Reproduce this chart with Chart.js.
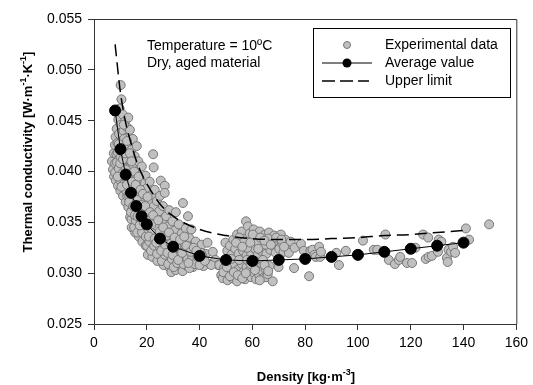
<!DOCTYPE html>
<html>
<head>
<meta charset="utf-8">
<script src="https://cdn.jsdelivr.net/npm/chart.js@4/dist/chart.umd.min.js"></script>
<style>
  html, body { margin: 0; padding: 0; background: #fff; }
  canvas { display: block; }
</style>
</head>
<body>
<canvas id="chart" width="533" height="385"></canvas>
<script>
// Axis ticks
const xTicks = [0, 20, 40, 60, 80, 100, 120, 140, 160];
const yTicks = [0.025, 0.030, 0.035, 0.040, 0.045, 0.050, 0.055];

// Average value (black markers)
const avgDensity = [8, 10, 12, 14, 16, 18, 20, 25, 30, 40, 50, 60, 70, 80, 90, 100, 110, 120, 130, 140];
const avgConductivity = [0.0460, 0.0422, 0.0397, 0.0379, 0.0366, 0.0356, 0.0348, 0.0334, 0.0326, 0.0317,
  0.0313, 0.0312, 0.0313, 0.0314, 0.0316, 0.0318, 0.0321, 0.0324, 0.0327, 0.0330];

// Upper limit (dashed)
const upperDensity = [8, 10, 12, 14, 16, 18, 20, 25, 30, 40, 50, 60, 70, 80, 90, 100, 110, 120, 130, 140];
const upperConductivity = [0.0525, 0.0478, 0.0448, 0.0428, 0.0411, 0.0398, 0.0388, 0.0368, 0.0356, 0.0343,
  0.0337, 0.0334, 0.0333, 0.0333, 0.0334, 0.0335, 0.0337, 0.0338, 0.0340, 0.0342];

const expPoints = [
  [6.8,0.0410],[7.2,0.0402],[7.5,0.0418],[7.6,0.0395],[7.9,0.0426],[8.0,0.0408],[8.2,0.0434],[8.3,0.0391],
  [8.5,0.0417],[8.6,0.0442],[8.8,0.0400],[8.9,0.0428],[9.1,0.0386],[9.2,0.0451],[9.3,0.0412],[9.5,0.0437],
  [9.6,0.0396],[9.7,0.0462],[9.9,0.0422],[10.0,0.0381],[10.1,0.0485],[10.2,0.0446],[10.3,0.0405],[10.4,0.0471],
  [10.5,0.0430],[10.6,0.0390],[10.8,0.0415],[10.9,0.0456],[11.0,0.0376],[11.2,0.0440],[11.3,0.0398],[11.5,0.0424],
  [11.6,0.0383],[11.7,0.0449],[11.9,0.0409],[12.0,0.0370],[12.1,0.0433],[12.3,0.0392],[12.4,0.0418],[12.6,0.0376],
  [12.7,0.0443],[12.9,0.0402],[13.0,0.0453],[13.0,0.0365],[13.2,0.0425],[13.4,0.0386],[13.5,0.0410],[13.6,0.0441],
  [13.7,0.0355],[13.8,0.0372],[14.0,0.0396],[14.1,0.0421],[14.3,0.0345],[14.4,0.0362],[14.5,0.0382],[14.7,0.0432],
  [14.8,0.0406],[15.0,0.0352],[15.1,0.0370],[15.3,0.0390],[15.4,0.0415],[15.6,0.0340],[15.7,0.0360],[15.9,0.0378],
  [16.0,0.0400],[16.2,0.0425],[16.3,0.0348],[16.5,0.0367],[16.7,0.0387],[16.8,0.0410],[17.0,0.0336],[17.1,0.0355],
  [17.3,0.0374],[17.5,0.0395],[17.6,0.0343],[17.8,0.0362],[18.0,0.0383],[18.1,0.0405],[18.3,0.0331],[18.4,0.0350],
  [18.6,0.0370],[18.8,0.0390],[19.0,0.0338],[19.1,0.0357],[19.3,0.0377],[19.5,0.0396],[19.6,0.0327],[19.8,0.0346],
  [20.0,0.0364],[20.2,0.0384],[20.4,0.0318],[20.5,0.0334],[20.7,0.0352],[20.9,0.0371],[21.1,0.0390],[21.3,0.0325],
  [21.5,0.0341],[21.7,0.0359],[21.9,0.0377],[22.1,0.0316],[22.3,0.0332],[22.4,0.0417],[22.6,0.0404],[22.5,0.0348],
  [22.7,0.0366],[23.0,0.0382],[23.2,0.0322],[23.4,0.0339],[23.6,0.0355],[23.8,0.0371],[24.0,0.0312],[24.2,0.0328],
  [24.4,0.0345],[24.7,0.0361],[25.0,0.0376],[25.3,0.0391],[25.2,0.0318],[25.5,0.0334],[25.8,0.0350],[26.1,0.0366],
  [26.4,0.0308],[26.7,0.0324],[26.8,0.0386],[26.8,0.0379],[27.0,0.0340],[27.3,0.0356],[27.6,0.0314],[27.9,0.0330],
  [28.2,0.0346],[28.5,0.0362],[28.8,0.0305],[29.0,0.0320],[29.3,0.0336],[29.3,0.0301],[29.7,0.0351],[30.0,0.0312],
  [30.3,0.0327],[30.6,0.0342],[31.0,0.0360],[31.0,0.0303],[31.4,0.0318],[31.7,0.0333],[32.1,0.0348],[32.5,0.0309],
  [32.8,0.0324],[33.2,0.0339],[33.7,0.0369],[33.6,0.0302],[34.0,0.0315],[34.4,0.0330],[34.8,0.0344],[35.2,0.0307],
  [35.6,0.0356],[35.6,0.0321],[36.0,0.0335],[36.5,0.0312],[36.9,0.0343],[37.0,0.0326],[37.5,0.0306],[38.0,0.0318],
  [38.5,0.0331],[39.0,0.0310],[39.6,0.0323],[40.2,0.0313],[40.8,0.0328],[41.5,0.0307],[42.3,0.0319],[43.0,0.0330],
  [44.0,0.0309],[45.0,0.0321],[46.0,0.0313],[47.0,0.0308],[44.4,0.0308],
  [8.0,0.0399],[8.7,0.0409],[9.0,0.0419],[9.4,0.0403],[9.8,0.0392],[10.1,0.0414],[10.7,0.0398],[11.1,0.0387],
  [11.4,0.0432],[11.8,0.0395],[12.2,0.0381],[12.8,0.0412],[13.1,0.0377],[13.3,0.0398],[13.9,0.0384],[14.2,0.0353],
  [14.6,0.0370],[14.9,0.0393],[15.2,0.0345],[15.5,0.0380],[15.8,0.0352],[16.1,0.0390],[16.4,0.0340],[16.9,0.0378],
  [17.2,0.0365],[17.7,0.0350],[18.2,0.0340],[18.7,0.0360],[19.2,0.0347],[19.7,0.0336],[20.1,0.0327],[20.6,0.0343],
  [21.0,0.0331],[21.6,0.0322],[22.0,0.0340],[22.8,0.0327],[23.3,0.0347],[23.9,0.0319],[24.6,0.0336],[25.1,0.0325],
  [25.7,0.0312],[26.3,0.0330],[26.9,0.0318],[27.5,0.0337],[28.1,0.0309],[28.6,0.0326],[29.5,0.0314],[30.2,0.0306],
  [30.8,0.0321],[31.5,0.0310],[32.2,0.0316],[33.0,0.0328],[33.9,0.0309],[34.6,0.0322],[35.4,0.0314],[36.2,0.0305],
  [37.2,0.0316],[38.2,0.0309],[39.2,0.0316],[40.5,0.0320],
  [9.0,0.0395],[9.4,0.0427],[9.9,0.0408],[10.4,0.0385],[10.5,0.0420],[11.0,0.0412],[11.3,0.0446],[11.8,0.0418],
  [12.0,0.0402],[12.5,0.0387],[12.5,0.0430],[13.0,0.0395],[13.3,0.0370],[13.6,0.0418],[14.0,0.0360],[14.2,0.0410],
  [14.5,0.0390],[14.9,0.0366],[15.2,0.0400],[15.5,0.0357],[15.8,0.0387],[16.2,0.0372],[16.5,0.0356],[16.9,0.0395],
  [17.3,0.0347],[17.6,0.0382],[18.0,0.0367],[18.5,0.0378],[18.9,0.0350],[19.4,0.0366],[19.9,0.0355],[20.3,0.0375],
  [20.8,0.0336],[21.2,0.0360],[21.8,0.0348],[22.4,0.0357],[23.0,0.0334],[23.6,0.0330],[24.3,0.0352],[24.9,0.0341],
  [25.5,0.0322],[26.2,0.0345],[27.0,0.0328],[27.8,0.0320],[28.4,0.0340],[29.1,0.0329],[29.8,0.0318],[30.5,0.0335],
  [31.2,0.0326],[31.9,0.0313],[32.6,0.0333],[33.4,0.0320],[34.2,0.0336],[35.0,0.0327],[35.8,0.0310],[36.6,0.0321],
  [37.8,0.0325],[38.8,0.0322],[40.0,0.0308],[41.0,0.0317],[42.0,0.0312],
  [49.8,0.0330],[50.5,0.0322],[51.5,0.0327],[52.0,0.0318],[52.8,0.0333],[53.5,0.0324],[54.2,0.0338],[54.8,0.0319],
  [55.5,0.0329],[56.0,0.0341],[56.5,0.0322],[57.2,0.0334],[57.6,0.0351],[57.8,0.0317],[58.3,0.0346],[58.5,0.0327],
  [59.0,0.0339],[59.5,0.0320],[60.0,0.0332],[60.5,0.0343],[61.0,0.0324],[61.5,0.0336],[62.0,0.0318],[62.4,0.0329],
  [62.8,0.0341],[63.3,0.0322],[63.8,0.0334],[64.3,0.0326],[64.8,0.0338],[65.3,0.0319],[65.8,0.0331],[66.3,0.0340],
  [66.8,0.0323],[67.3,0.0334],[67.8,0.0327],[68.3,0.0337],[68.8,0.0320],[69.3,0.0330],[69.9,0.0306],[70.2,0.0324],
  [70.8,0.0338],[71.3,0.0329],[71.8,0.0321],[72.5,0.0333],[73.0,0.0326],[73.8,0.0320],[74.5,0.0331],[75.8,0.0305],
  [76.0,0.0325],[78.4,0.0329],[55.0,0.0335],[58.0,0.0325],[61.8,0.0331],[65.0,0.0328],[68.0,0.0331],[60.2,0.0338],
  [63.0,0.0335],[66.0,0.0334],[56.8,0.0331],
  [53.8,0.0330],[56.2,0.0326],[59.2,0.0330],[62.2,0.0324],[64.6,0.0332],[67.0,0.0328],[69.0,0.0335],[71.0,0.0333],
  [72.0,0.0326],
  [47.5,0.0308],[48.2,0.0298],[48.8,0.0295],[49.3,0.0305],[50.0,0.0300],[50.6,0.0293],[51.2,0.0310],[51.8,0.0302],
  [52.4,0.0295],[53.0,0.0307],[53.6,0.0299],[54.2,0.0292],[54.8,0.0304],[55.4,0.0297],[56.0,0.0309],[56.6,0.0301],
  [57.2,0.0294],[57.8,0.0306],[58.4,0.0298],[59.0,0.0303],[59.6,0.0296],[60.2,0.0308],[60.8,0.0300],[61.4,0.0294],
  [62.0,0.0305],[62.6,0.0298],[63.2,0.0310],[63.8,0.0302],[64.4,0.0296],[65.0,0.0304],[65.2,0.0296],[65.8,0.0299],
  [66.5,0.0307],[67.7,0.0292],[52.0,0.0314],[55.0,0.0313],[58.0,0.0313],[61.0,0.0312],[64.0,0.0313],
  [49.0,0.0301],[50.3,0.0306],[51.5,0.0297],[53.0,0.0301],[54.5,0.0298],[56.2,0.0295],[57.5,0.0300],[59.3,0.0309],
  [61.0,0.0303],[62.8,0.0293],[64.6,0.0308],[66.0,0.0302],
  [79.5,0.0322],[81.5,0.0297],[82.0,0.0322],[82.8,0.0323],[83.5,0.0318],[84.0,0.0316],[85.3,0.0326],[85.7,0.0316],
  [86.0,0.0321],[91.8,0.0320],[92.8,0.0308],[95.4,0.0322],[101.9,0.0332],[106.0,0.0323],[107.3,0.0323],[110.4,0.0338],
  [111.7,0.0313],[114.0,0.0309],[115.5,0.0313],[116.0,0.0316],[118.6,0.0310],[120.5,0.0310],[121.8,0.0325],[124.7,0.0338],
  [126.6,0.0335],[125.7,0.0314],[126.8,0.0316],[128.0,0.0317],[130.6,0.0333],[131.6,0.0331],[130.3,0.0321],[133.7,0.0315],
  [134.0,0.0311],[134.3,0.0323],[135.3,0.0321],[136.0,0.0326],[136.8,0.0320],[140.9,0.0344],[142.1,0.0333],[149.7,0.0348]
];

const FONT = "Arial, 'Liberation Sans', sans-serif";
const AXIS_COLOR = "#333";

// Draws text with superscript parts, centred on x
function drawRich(ctx, parts, x, y) {
  const base = "bold 13px " + FONT;
  const sup = "bold 9px " + FONT;
  let total = 0;
  parts.forEach(p => {
    ctx.font = p.sup ? sup : base;
    total += ctx.measureText(p.t).width;
  });
  let cx = x - total / 2;
  parts.forEach(p => {
    ctx.font = p.sup ? sup : base;
    ctx.fillText(p.t, cx, p.sup ? y - 6 : y);
    cx += ctx.measureText(p.t).width;
  });
}

const extras = {
  id: "extras",
  afterDraw(chart) {
    const ctx = chart.ctx;
    const a = chart.chartArea;
    ctx.save();

    // top and right frame
    ctx.strokeStyle = AXIS_COLOR;
    ctx.lineWidth = 1;
    ctx.beginPath();
    ctx.moveTo(a.left, a.top + 0.5);
    ctx.lineTo(a.right + 0.5, a.top + 0.5);
    ctx.lineTo(a.right + 0.5, a.bottom);
    ctx.stroke();

    ctx.fillStyle = "#000";
    ctx.textBaseline = "alphabetic";
    ctx.textAlign = "left";

    // note text
    ctx.font = "14px " + FONT;
    ctx.fillText("Temperature = 10ºC", 147, 50);
    ctx.fillText("Dry, aged material", 147, 67);

    // legend
    ctx.strokeStyle = "#000";
    ctx.strokeRect(313.5, 28.5, 197, 69);
    ctx.textBaseline = "middle";
    ctx.fillText("Experimental data", 385, 45);
    ctx.fillText("Average value", 385, 63);
    ctx.fillText("Upper limit", 385, 81);

    ctx.beginPath();
    ctx.arc(347, 45, 3.5, 0, Math.PI * 2);
    ctx.fillStyle = "#c0c0c0";
    ctx.fill();
    ctx.strokeStyle = "#777";
    ctx.stroke();

    ctx.strokeStyle = "#000";
    ctx.fillStyle = "#000";
    ctx.beginPath();
    ctx.moveTo(322, 63);
    ctx.lineTo(372, 63);
    ctx.stroke();
    ctx.beginPath();
    ctx.arc(347, 63, 4.5, 0, Math.PI * 2);
    ctx.fill();

    ctx.setLineDash([13, 5]);
    ctx.lineWidth = 1.5;
    ctx.beginPath();
    ctx.moveTo(322, 81);
    ctx.lineTo(369, 81);
    ctx.stroke();
    ctx.setLineDash([]);

    // axis titles
    ctx.textBaseline = "alphabetic";
    drawRich(ctx, [{t: "Density [kg·m"}, {t: "-3", sup: true}, {t: "]"}], 306, 381);
    ctx.translate(32, 152);
    ctx.rotate(-Math.PI / 2);
    drawRich(ctx, [{t: "Thermal conductivity [W·m"}, {t: "-1", sup: true}, {t: "·K"}, {t: "-1", sup: true}, {t: "]"}], 0, 0);

    ctx.restore();
  }
};

new Chart(document.getElementById("chart"), {
  type: "scatter",
  data: {
    datasets: [
      {
        label: "Experimental data",
        data: expPoints.map(p => ({x: p[0], y: p[1]})),
        backgroundColor: "#c0c0c0",
        borderColor: "#777",
        borderWidth: 1,
        pointRadius: 4.5,
        order: 2
      },
      {
        label: "Average value",
        data: avgDensity.map((d, i) => ({x: d, y: avgConductivity[i]})),
        showLine: true,
        borderColor: "#000",
        backgroundColor: "#000",
        borderWidth: 1,
        pointRadius: 5.5,
        order: 0
      },
      {
        label: "Upper limit",
        data: upperDensity.map((d, i) => ({x: d, y: upperConductivity[i]})),
        showLine: true,
        borderColor: "#000",
        borderWidth: 1.5,
        borderDash: [12, 6],
        pointRadius: 0,
        cubicInterpolationMode: "monotone",
        order: 1
      }
    ]
  },
  options: {
    responsive: false,
    animation: false,
    devicePixelRatio: 1,
    layout: { padding: { top: 19, right: 15, left: 0, bottom: 0 } },
    plugins: { legend: { display: false }, tooltip: { enabled: false } },
    scales: {
      x: {
        type: "linear",
        min: 0,
        max: 160,
        afterBuildTicks: axis => { axis.ticks = xTicks.map(v => ({value: v})); },
        afterFit: axis => { axis.height = 61; },
        ticks: { color: "#000", font: { size: 14, family: FONT }, padding: 5 },
        grid: { drawOnChartArea: false, tickLength: 6, color: AXIS_COLOR },
        border: { color: AXIS_COLOR }
      },
      y: {
        min: 0.025,
        max: 0.055,
        afterBuildTicks: axis => { axis.ticks = yTicks.map(v => ({value: v})); },
        afterFit: axis => { axis.width = 94; },
        ticks: { color: "#000", font: { size: 14, family: FONT }, padding: 6,
          callback: v => v.toFixed(3) },
        grid: { drawOnChartArea: false, tickLength: 6, color: AXIS_COLOR },
        border: { color: AXIS_COLOR }
      }
    }
  },
  plugins: [extras]
});
</script>
</body>
</html>
